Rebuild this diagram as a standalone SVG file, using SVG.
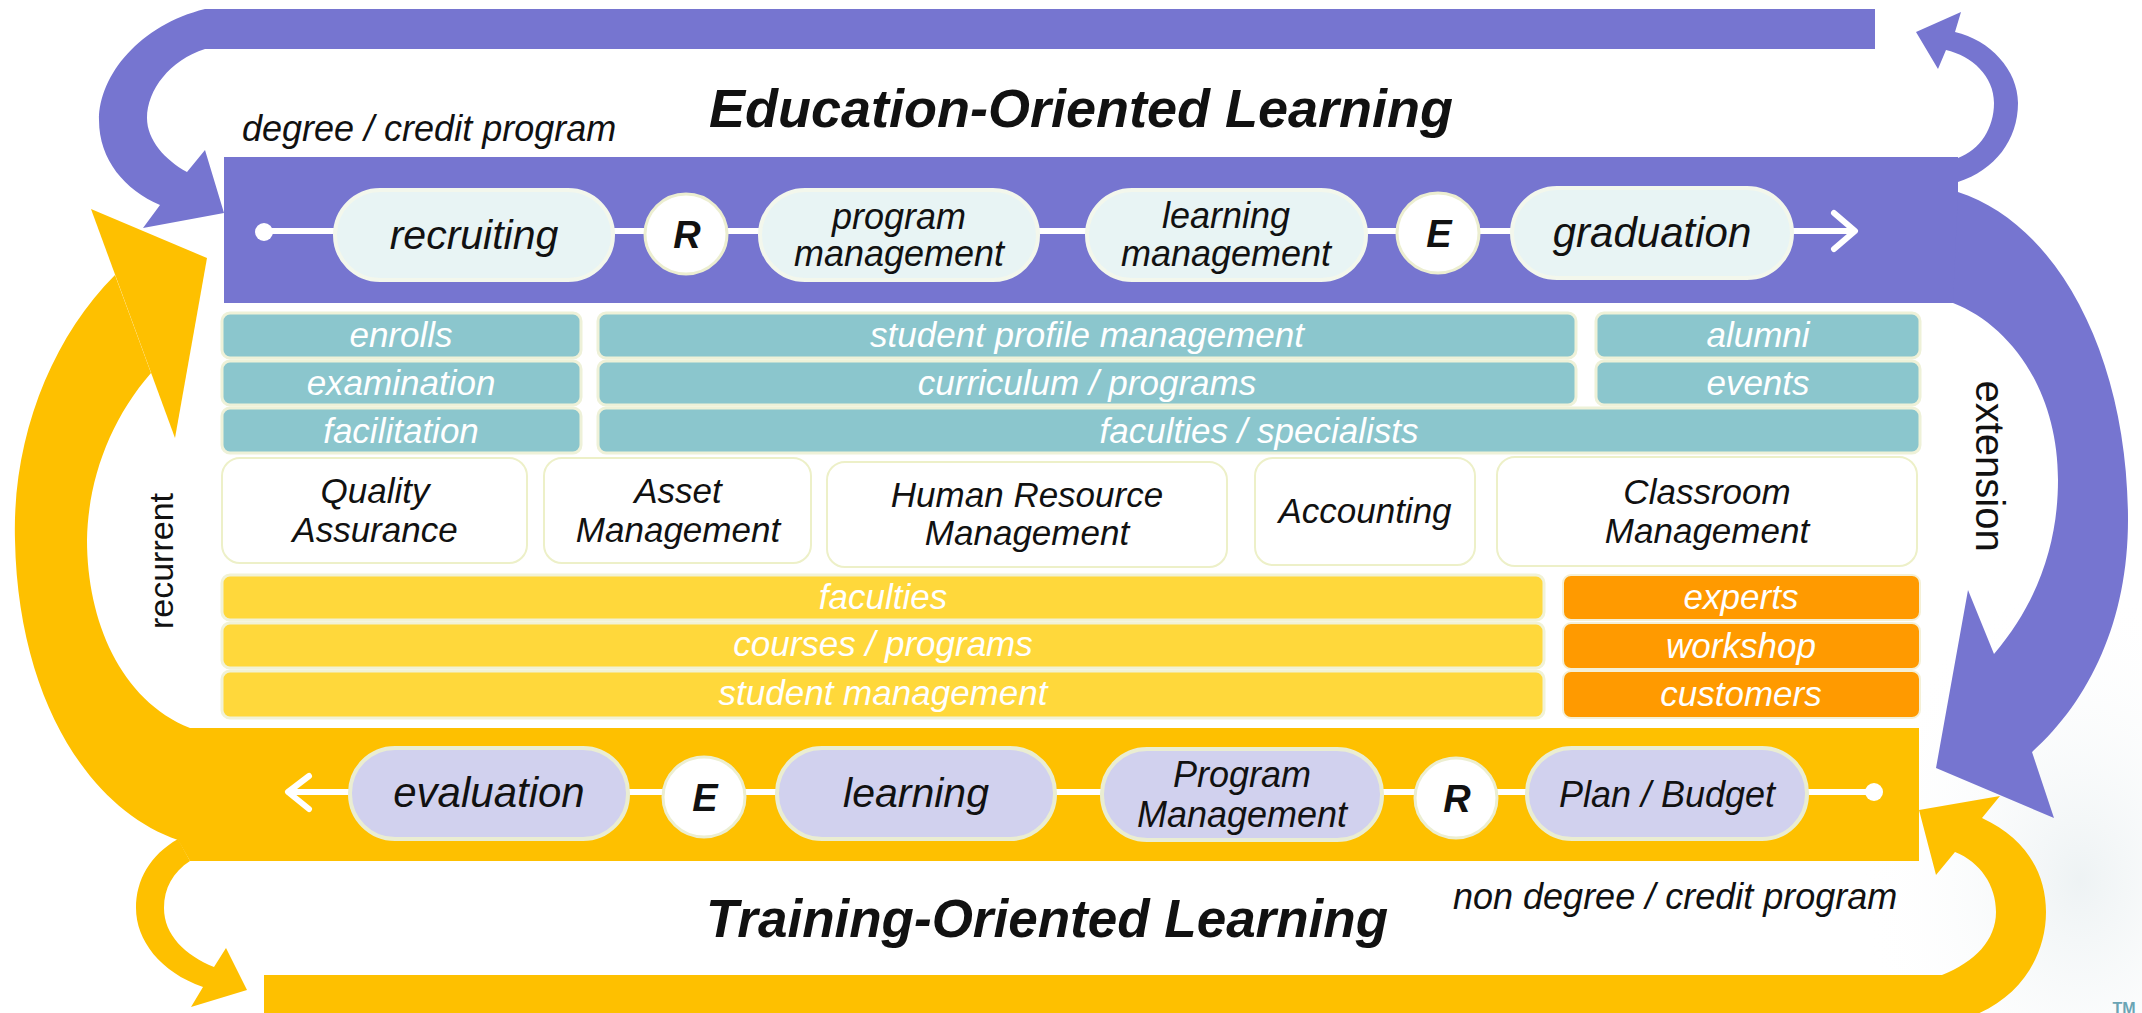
<svg xmlns="http://www.w3.org/2000/svg" width="2142" height="1013" viewBox="0 0 2142 1013">
<defs>
<radialGradient id="haze" cx="0.5" cy="0.5" r="0.5">
<stop offset="0" stop-color="#E6EDEF" stop-opacity="0.7"/>
<stop offset="1" stop-color="#FFFFFF" stop-opacity="0"/>
</radialGradient>
<style>
.purple{fill:#7675D0}
.gold{fill:#FEC000}
.pillA{fill:#E8F4F4;stroke:#F3F7EC;stroke-width:4}
.pillB{fill:#D1D1EE;stroke:#EAEDD2;stroke-width:4}
.circ{fill:#FFFFFF;stroke:#ECEED0;stroke-width:3}
.teal{fill:#8BC6CD;stroke:#EEF1D8;stroke-width:3}
.yel{fill:#FFD83B;stroke:#F1F2D6;stroke-width:3}
.org{fill:#FF9A00;stroke:#F4F0D6;stroke-width:2}
.box{fill:#FFFFFF;stroke:#EDF0C8;stroke-width:2}
.t{font-family:"Liberation Sans",Arial,sans-serif;font-style:italic;text-anchor:middle}
.w{fill:#FFFFFF;font-size:35px}
.k{fill:#111111}
.b{font-weight:bold}
.line{stroke:#FFFFFF;stroke-width:6;fill:none;stroke-linecap:round;stroke-linejoin:round}
.up{font-family:"Liberation Sans",Arial,sans-serif;fill:#111111;text-anchor:middle}
</style>
</defs>
<rect x="0" y="0" width="2142" height="1013" fill="#FFFFFF"/>
<ellipse cx="2080" cy="880" rx="220" ry="300" fill="url(#haze)"/>

<!-- bands -->
<g id="bands">
<rect id="edu-band" class="purple" x="224" y="157" width="1734" height="146"/>
</g>

<!-- cycle arrows -->
<g id="cycle-arrows">
<path id="arrow-recurrent" class="gold" d="M115,275 C50,340 12,440 15,540 C18,700 90,810 178,840 L190,861 L1919,861 L1919,728 L190,728 C120,700 87,620 87,540 C88,480 110,420 151,373 Z"/>
<path class="gold" d="M91,209 L207,258 L175,438 Z"/>
<path id="arrow-left-down" class="gold" d="M178,839 C150,855 136,880 136,908 C136,940 160,972 203,987 L191,1007 L247,990 L226,948 L214,967 C185,955 164,935 164,908 C164,888 173,872 190,861 Z"/>
<path id="arrow-bottom" class="gold" d="M1982,818 C2025,838 2046,872 2046,912 C2046,960 2015,1005 1960,1020 L264,1020 L264,975 L1942,975 C1975,962 1996,940 1996,912 C1996,885 1980,862 1955,852 L1936,875 L1919,810 L2000,796 Z"/>
<path id="arrow-top" class="purple" d="M1875,9 L205,9 C140,25 99,75 99,120 C99,160 125,190 160,205 L143,228 L224,213 L205,150 L187,172 C165,160 147,140 147,118 C147,90 170,60 205,49 L1875,49 Z"/>
<path id="arrow-small-up" class="purple" d="M1958,182 C1995,170 2018,140 2018,103 C2018,70 1990,40 1955,32 L1961,12 L1916,32 L1938,69 L1946,50 C1972,56 1994,76 1994,103 C1994,128 1980,150 1958,158 Z"/>
<path id="arrow-extension" class="purple" d="M1958,192 C2060,225 2128,360 2128,520 C2128,620 2090,700 2032,752 L2054,818 L1936,768 L1968,590 L1994,654 C2040,600 2058,540 2058,480 C2058,390 2010,325 1953,303 Z"/>
</g>

<!-- process connectors -->
<g id="connectors">
<line class="line" x1="264" y1="231" x2="1853" y2="231"/>
<circle cx="264" cy="232" r="9" fill="#FFFFFF"/>
<polyline class="line" points="1834,213 1855,231 1834,249"/>
<line class="line" x1="289" y1="792" x2="1874" y2="792"/>
<circle cx="1874" cy="792" r="9" fill="#FFFFFF"/>
<polyline class="line" points="309,776 288,792 309,809"/>
</g>

<!-- labels -->
<g id="labels">
<text class="t b k" x="1081" y="127" font-size="54">Education-Oriented Learning</text>
<text class="t b k" x="1047" y="937" font-size="53">Training-Oriented Learning</text>
<text class="t k" x="242" y="141" font-size="36" style="text-anchor:start">degree / credit program</text>
<text class="t k" x="1453" y="909" font-size="36" style="text-anchor:start">non degree / credit program</text>
<text class="up" font-size="34" transform="translate(173,561) rotate(-90)">recurrent</text>
<text class="up" font-size="40" transform="translate(1976,466) rotate(90)">extension</text>
<text x="2124" y="1014" font-family="Liberation Sans, Arial, sans-serif" font-weight="bold" font-size="16" fill="#6AA4B4" text-anchor="middle">TM</text>
</g>

<!-- education process nodes -->
<g id="node-recruiting"><rect class="pillA" x="335" y="190" width="278" height="90" rx="45"/><text class="t k" x="474" y="249" font-size="41">recruiting</text></g>
<g id="node-R-top"><ellipse class="circ" cx="686" cy="234" rx="41" ry="40"/><text class="t b k" x="687" y="248" font-size="38">R</text></g>
<g id="node-program-management"><rect class="pillA" x="760" y="190" width="278" height="90" rx="45"/><text class="t k" x="899" y="229" font-size="36">program</text><text class="t k" x="899" y="266" font-size="36">management</text></g>
<g id="node-learning-management"><rect class="pillA" x="1087" y="190" width="279" height="90" rx="45"/><text class="t k" x="1226" y="228" font-size="36">learning</text><text class="t k" x="1226" y="266" font-size="36">management</text></g>
<g id="node-E-top"><ellipse class="circ" cx="1438" cy="233" rx="41" ry="40"/><text class="t b k" x="1439" y="247" font-size="38">E</text></g>
<g id="node-graduation"><rect class="pillA" x="1512" y="188" width="280" height="90" rx="45"/><text class="t k" x="1652" y="247" font-size="42">graduation</text></g>

<!-- teal rows -->
<g id="node-enrolls"><rect class="teal" x="222" y="313" width="359" height="45" rx="8"/><text class="t w" x="401" y="347">enrolls</text></g>
<g id="node-examination"><rect class="teal" x="222" y="361" width="359" height="44" rx="8"/><text class="t w" x="401" y="395">examination</text></g>
<g id="node-facilitation"><rect class="teal" x="222" y="408" width="359" height="45" rx="8"/><text class="t w" x="401" y="443">facilitation</text></g>
<g id="node-student-profile"><rect class="teal" x="598" y="313" width="978" height="45" rx="8"/><text class="t w" x="1087" y="347">student profile management</text></g>
<g id="node-curriculum"><rect class="teal" x="598" y="361" width="978" height="44" rx="8"/><text class="t w" x="1087" y="395">curriculum / programs</text></g>
<g id="node-alumni"><rect class="teal" x="1596" y="313" width="324" height="45" rx="8"/><text class="t w" x="1758" y="347">alumni</text></g>
<g id="node-events"><rect class="teal" x="1596" y="361" width="324" height="44" rx="8"/><text class="t w" x="1758" y="395">events</text></g>
<g id="node-faculties-specialists"><rect class="teal" x="598" y="408" width="1322" height="45" rx="8"/><text class="t w" x="1259" y="443">faculties / specialists</text></g>

<!-- white boxes -->
<g id="node-quality"><rect class="box" x="222" y="458" width="305" height="105" rx="18"/><text class="t k" x="375" y="503" font-size="35">Quality</text><text class="t k" x="375" y="542" font-size="35">Assurance</text></g>
<g id="node-asset"><rect class="box" x="544" y="458" width="267" height="105" rx="18"/><text class="t k" x="678" y="503" font-size="35">Asset</text><text class="t k" x="678" y="542" font-size="35">Management</text></g>
<g id="node-hrm"><rect class="box" x="827" y="462" width="400" height="105" rx="18"/><text class="t k" x="1027" y="507" font-size="35">Human Resource</text><text class="t k" x="1027" y="545" font-size="35">Management</text></g>
<g id="node-accounting"><rect class="box" x="1255" y="458" width="220" height="107" rx="18"/><text class="t k" x="1365" y="523" font-size="35">Accounting</text></g>
<g id="node-classroom"><rect class="box" x="1497" y="457" width="420" height="109" rx="18"/><text class="t k" x="1707" y="504" font-size="35">Classroom</text><text class="t k" x="1707" y="543" font-size="35">Management</text></g>

<!-- yellow / orange rows -->
<g id="node-faculties"><rect class="yel" x="222" y="575" width="1322" height="45" rx="8"/><text class="t w" x="883" y="609">faculties</text></g>
<g id="node-courses"><rect class="yel" x="222" y="623" width="1322" height="45" rx="8"/><text class="t w" x="883" y="656">courses / programs</text></g>
<g id="node-student-management"><rect class="yel" x="222" y="671" width="1322" height="47" rx="8"/><text class="t w" x="883" y="705">student management</text></g>
<g id="node-experts"><rect class="org" x="1563" y="575" width="357" height="45" rx="8"/><text class="t w" x="1741" y="609">experts</text></g>
<g id="node-workshop"><rect class="org" x="1563" y="623" width="357" height="46" rx="8"/><text class="t w" x="1741" y="658">workshop</text></g>
<g id="node-customers"><rect class="org" x="1563" y="671" width="357" height="47" rx="8"/><text class="t w" x="1741" y="706">customers</text></g>

<!-- training process nodes -->
<g id="node-evaluation"><rect class="pillB" x="350" y="748" width="278" height="91" rx="45"/><text class="t k" x="489" y="807" font-size="42">evaluation</text></g>
<g id="node-E-bottom"><ellipse class="circ" cx="704" cy="797" rx="41" ry="40"/><text class="t b k" x="705" y="811" font-size="38">E</text></g>
<g id="node-learning"><rect class="pillB" x="777" y="748" width="278" height="91" rx="45"/><text class="t k" x="916" y="807" font-size="41">learning</text></g>
<g id="node-program-management-2"><rect class="pillB" x="1102" y="749" width="280" height="91" rx="45"/><text class="t k" x="1242" y="787" font-size="36">Program</text><text class="t k" x="1242" y="827" font-size="36">Management</text></g>
<g id="node-R-bottom"><ellipse class="circ" cx="1456" cy="798" rx="41" ry="40"/><text class="t b k" x="1457" y="812" font-size="38">R</text></g>
<g id="node-plan-budget"><rect class="pillB" x="1527" y="748" width="280" height="91" rx="45"/><text class="t k" x="1667" y="807" font-size="36">Plan / Budget</text></g>
</svg>
